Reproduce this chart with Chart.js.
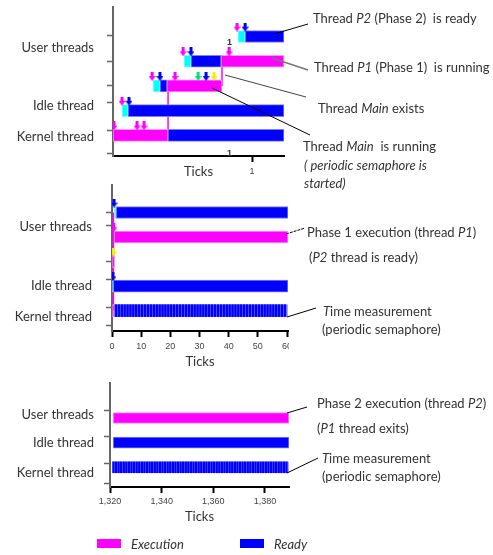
<!DOCTYPE html>
<html>
<head>
<meta charset="utf-8">
<title>Thread timeline</title>
<script src="https://cdn.jsdelivr.net/npm/chart.js@4.4.0/dist/chart.umd.min.js"></script>
<style>
  body { margin: 0; background: #fff; font-family: Lato, sans-serif; color: #333; }
  #page { position: relative; width: 493px; height: 555px; overflow: hidden; }
  .panel { position: absolute; left: 0; }
  #clip2 { position: absolute; left: 0; top: 180px; width: 289px; height: 190px; overflow: hidden; }
  .note { position: absolute; font-size: 13px; line-height: 16px; white-space: nowrap; }
  .small { position: absolute; font: bold 9px "Liberation Sans", sans-serif; color: #333; }
  .key { position: absolute; width: 24px; height: 9px; }
  svg { position: absolute; left: 0; top: 0; }
</style>
</head>
<body>
<div id="page">
  <canvas id="p1" class="panel" style="top:0" width="493" height="180"></canvas>
  <div id="clip2"><canvas id="p2" class="panel" style="top:0" width="300" height="190"></canvas></div>
  <canvas id="p3" class="panel" style="top:375px" width="493" height="150"></canvas>

  <!-- leader lines -->
  <svg width="493" height="555">
    <g stroke-width="1">
      <line x1="274" y1="34" x2="308" y2="24" stroke="#000"/>
      <line x1="272" y1="58" x2="308" y2="70" stroke="#777" stroke-width="1.5"/>
      <line x1="225" y1="75" x2="306" y2="97" stroke="#444"/>
      <line x1="212" y1="88" x2="310" y2="135" stroke="#000"/>
      <line x1="286" y1="234" x2="305" y2="228" stroke="#000" stroke-dasharray="3 1"/>
      <line x1="287" y1="317" x2="316" y2="308" stroke="#000"/>
      <line x1="287" y1="413" x2="307" y2="407" stroke="#000"/>
      <line x1="287" y1="473" x2="318" y2="458" stroke="#000"/>
    </g>
  </svg>

  <!-- annotations -->
  <div class="note" style="left:313px;top:10px">Thread <i>P2</i> (Phase 2)&nbsp; is ready</div>
  <div class="note" style="left:314px;top:59px">Thread <i>P1</i> (Phase 1)&nbsp; is running</div>
  <div class="note" style="left:318px;top:100px">Thread <i>Main</i> exists</div>
  <div class="note" style="left:303px;top:138px">Thread <i>Main</i>&nbsp; is running</div>
  <div class="note" style="left:304px;top:157px"><i>( periodic semaphore is</i></div>
  <div class="note" style="left:304px;top:175px"><i>started)</i></div>

  <div class="note" style="left:307px;top:224px">Phase 1 execution (thread <i>P1</i>)</div>
  <div class="note" style="left:309px;top:249px">(<i>P2</i> thread is ready)</div>
  <div class="note" style="left:323px;top:303px"><i>T</i>ime measurement</div>
  <div class="note" style="left:322px;top:321px">(periodic semaphore)</div>

  <div class="note" style="left:317px;top:395px">Phase 2 execution (thread <i>P2</i>)</div>
  <div class="note" style="left:317px;top:420px">(<i>P1</i> thread exits)</div>
  <div class="note" style="left:322px;top:450px"><i>T</i>ime measurement</div>
  <div class="note" style="left:322px;top:468px">(periodic semaphore)</div>

  <div class="small" style="left:227px;top:37px">1</div>
  <div class="small" style="left:227px;top:148px">1</div>

  <!-- legend -->
  <div class="key" style="left:97px;top:539px;background:#ff00ff"></div>
  <div class="note" style="left:131px;top:536px"><i>Execution</i></div>
  <div class="key" style="left:240px;top:539px;background:#0000ff"></div>
  <div class="note" style="left:274px;top:536px"><i>Ready</i></div>
</div>

<script>
// Bảng dữ liệu: mỗi đoạn là [hàng, bắt đầu, kết thúc] theo tick
// hàng: 0 Kernel, 1 Idle, 2 Main, 3 P1, 4 P2
const rowLabels = ['Kernel thread', 'Idle thread', 'User threads'];

// Panel 1 - phóng to tick đầu tiên
const p1Ticks = [1];
const p1Exec = [[0, 0, 0.396], [2, 0.388, 0.784], [3, 0.777, 1.23]];
const p1Ready = [[0, 0.396, 1.23], [1, 0.108, 1.23], [2, 0.338, 0.388], [3, 0.561, 0.777], [4, 0.950, 1.23]];
const p1Created = [[1, 0.065, 0.108], [2, 0.288, 0.338], [3, 0.511, 0.561], [4, 0.899, 0.950]];
const p1ArrowExec = [[0, 0.007], [0, 0.173], [0, 0.223], [1, 0.065], [2, 0.281], [2, 0.446], [3, 0.504], [3, 0.835], [4, 0.892]];
const p1ArrowReady = [[1, 0.115], [2, 0.338], [2, 0.669], [3, 0.561], [4, 0.950]];
const p1ArrowStart = [[2, 0.612]];
const p1ArrowWait = [[2, 0.727]];
const p1Switch = [[0.396, 0, 2], [0.784, 2, 3]]; // [tick, từ hàng, đến hàng]

// Panel 2 - 60 tick đầu (phase 1)
const p2Ticks = [0, 10, 20, 30, 40, 50, 60];
const p2Exec = [[0, 0, 0.6], [2, 0.2, 0.9], [3, 0.7, 60.34]];
const p2Ready = [[1, 0.4, 60.34], [4, 1.4, 60.34]];
const p2Created = [[1, 0, 0.4], [4, 0.8, 1.4]];
const p2Sem = [1, 2, 3, 4, 5, 6, 7, 8, 9, 10, 11, 12, 13, 14, 15, 16, 17, 18, 19, 20,
    21, 22, 23, 24, 25, 26, 27, 28, 29, 30, 31, 32, 33, 34, 35, 36, 37, 38, 39, 40,
    41, 42, 43, 44, 45, 46, 47, 48, 49, 50, 51, 52, 53, 54, 55, 56, 57, 58, 59];
const p2SemSpan = [[0, 0.9, 60.34]];
const p2ArrowExec = [[3, 0.6]];
const p2ArrowReady = [[1, 0.3], [4, 0.7]];
const p2ArrowWait = [[2, 0.4]];
const p2Switch = [[0.5, 0, 4]];

// Panel 3 - phase 2 (hàng: 0 Kernel, 1 Idle, 2 User)
const p3Ticks = [1320, 1340, 1360, 1380];
const p3Exec = [[2, 1321.2, 1389.3]];
const p3Ready = [[1, 1321.2, 1389.3]];
const p3Sem = [1321, 1322, 1323, 1324, 1325, 1326, 1327, 1328, 1329, 1330,
    1331, 1332, 1333, 1334, 1335, 1336, 1337, 1338, 1339, 1340,
    1341, 1342, 1343, 1344, 1345, 1346, 1347, 1348, 1349, 1350,
    1351, 1352, 1353, 1354, 1355, 1356, 1357, 1358, 1359, 1360,
    1361, 1362, 1363, 1364, 1365, 1366, 1367, 1368, 1369, 1370,
    1371, 1372, 1373, 1374, 1375, 1376, 1377, 1378, 1379, 1380,
    1381, 1382, 1383, 1384, 1385, 1386, 1387, 1388];
const p3SemSpan = [[0, 1321.2, 1389.3]];

const MAGENTA = '#ff00ff';
const BLUE = '#0000ff';
const CYAN = '#00ffff';

// Mũi tên nhỏ dùng làm pointStyle
function arrowImage(color) {
    const c = document.createElement('canvas');
    c.width = 7;
    c.height = 9;
    const g = c.getContext('2d');
    g.fillStyle = color;
    g.fillRect(2, 0, 3, 5);
    g.beginPath();
    g.moveTo(0, 4);
    g.lineTo(7, 4);
    g.lineTo(3.5, 9);
    g.closePath();
    g.fill();
    return c;
}

function barSet(rows, color, border, thickness, order) {
    return {
        type: 'bar',
        data: rows.map(r => ({ y: r[0] + 0.5, x: [r[1], r[2]] })),
        backgroundColor: color,
        borderColor: border,
        borderWidth: 1,
        borderSkipped: false,
        grouped: false,
        barThickness: thickness,
        order: order
    };
}

function arrowSet(points, color, lift) {
    return {
        type: 'line',
        showLine: false,
        data: points.map(p => ({ x: p[1], y: p[0] + 0.5 + lift })),
        pointStyle: arrowImage(color),
        pointRadius: 4,
        pointHoverRadius: 4,
        order: 1
    };
}

function switchSet(lines) {
    return lines.map(s => ({
        type: 'line',
        data: [{ x: s[0], y: s[1] + 0.5 }, { x: s[0], y: s[2] + 0.5 }],
        borderColor: MAGENTA,
        borderWidth: 1.5,
        pointRadius: 0,
        order: 10
    }));
}

function makePanel(id, p) {
    const marks = p.marks;
    const yTicks = marks.concat(p.labelAt).sort((a, b) => a - b);
    return new Chart(document.getElementById(id), {
        type: 'bar',
        data: { datasets: p.datasets },
        options: {
            indexAxis: 'y',
            responsive: false,
            animation: false,
            events: [],
            layout: { padding: p.padding },
            plugins: { legend: { display: false }, tooltip: { enabled: false } },
            scales: {
                x: {
                    type: 'linear',
                    min: p.xMin,
                    max: p.xMax,
                    afterBuildTicks: s => { s.ticks = p.xTicks.map(v => ({ value: v })); },
                    afterFit: s => { s.height = p.xHeight; s.paddingLeft = 0; s.paddingRight = 0; },
                    border: { color: '#000', width: 2 },
                    grid: { drawOnChartArea: false, tickLength: 6, tickColor: '#000', tickWidth: 2 },
                    ticks: {
                        autoSkip: false,
                        maxRotation: 0,
                        padding: p.xPad,
                        color: '#444',
                        font: { family: 'Liberation Sans', size: 9 },
                        callback: v => v.toLocaleString('en-US')
                    },
                    title: { display: true, text: 'Ticks', color: '#333', font: { family: 'Lato', size: 13 }, padding: 0 }
                },
                y: {
                    type: 'linear',
                    min: 0,
                    max: p.yMax,
                    afterBuildTicks: s => { s.ticks = yTicks.map(v => ({ value: v })); },
                    afterFit: s => { s.width = p.yWidth; s.paddingTop = 0; s.paddingBottom = 0; },
                    border: { color: '#666', width: 2 },
                    grid: {
                        drawOnChartArea: false,
                        tickLength: 6,
                        tickWidth: 1.5,
                        tickColor: c => (c.tick && marks.includes(c.tick.value)) ? '#666' : 'rgba(0,0,0,0)'
                    },
                    ticks: {
                        autoSkip: false,
                        padding: p.yPad,
                        color: '#333',
                        font: { family: 'Lato', size: 13 },
                        callback: v => {
                            const i = p.labelAt.indexOf(v);
                            return i >= 0 ? rowLabels[i] : '';
                        }
                    }
                }
            }
        }
    });
}

function semBars(starts, span, thickness) {
    return [
        barSet(span, '#a8a8ff', '#a8a8ff', thickness, 5),
        {
            type: 'bar',
            data: starts.map(t => ({ y: 0.5, x: [t, t + 0.65] })),
            backgroundColor: BLUE,
            borderWidth: 0,
            grouped: false,
            barThickness: thickness,
            order: 2
        }
    ];
}

document.addEventListener('DOMContentLoaded', function() {
    // Panel 1
    makePanel('p1', {
        padding: { top: 7, right: 209, bottom: 0, left: 0 },
        xMin: 0, xMax: 1.23, xTicks: p1Ticks, xHeight: 24, xPad: 4,
        yMax: 5.36, yWidth: 113, yPad: 13,
        marks: [0, 1, 2, 3, 4, 5], labelAt: [0.43, 1.69, 4.06],
        datasets: [
            ...switchSet(p1Switch),
            barSet(p1Created, CYAN, '#80ffff', 12, 3),
            barSet(p1Ready, BLUE, '#8080ff', 12, 3),
            barSet(p1Exec, MAGENTA, '#ff90ff', 12, 3),
            arrowSet(p1ArrowExec, MAGENTA, 0.38),
            arrowSet(p1ArrowReady, BLUE, 0.38),
            arrowSet(p1ArrowStart, '#00e080', 0.38),
            arrowSet(p1ArrowWait, '#f0f000', 0.38)
        ]
    });

    // Panel 2 (canvas rộng hơn, phần bên phải bị cắt như ảnh gốc)
    makePanel('p2', {
        padding: { top: 5, right: 12, bottom: 0, left: 0 },
        xMin: 0, xMax: 60.34, xTicks: p2Ticks, xHeight: 39, xPad: 4,
        yMax: 5.29, yWidth: 112, yPad: 14,
        marks: [0, 1, 2, 3, 4, 5], labelAt: [0.25, 1.52, 3.91],
        datasets: [
            ...switchSet(p2Switch),
            ...semBars(p2Sem, p2SemSpan, 12),
            barSet(p2Created, CYAN, '#80ffff', 12, 3),
            barSet(p2Ready, BLUE, '#8080ff', 12, 3),
            barSet(p2Exec, MAGENTA, '#ff90ff', 12, 3),
            arrowSet(p2ArrowExec, MAGENTA, 0.38),
            arrowSet(p2ArrowReady, BLUE, 0.38),
            arrowSet(p2ArrowWait, '#f0f000', 0.38)
        ]
    });

    // Panel 3
    makePanel('p3', {
        padding: { top: 8, right: 204, bottom: 0, left: 0 },
        xMin: 1320, xMax: 1389.3, xTicks: p3Ticks, xHeight: 38, xPad: 3,
        yMax: 3.62, yWidth: 110, yPad: 10,
        marks: [0, 1, 2, 3], labelAt: [0.28, 1.5, 2.61],
        datasets: [
            ...semBars(p3Sem, p3SemSpan, 11),
            barSet(p3Ready, BLUE, '#8080ff', 11, 3),
            barSet(p3Exec, MAGENTA, '#ff90ff', 11, 3)
        ]
    });
});
</script>
</body>
</html>
